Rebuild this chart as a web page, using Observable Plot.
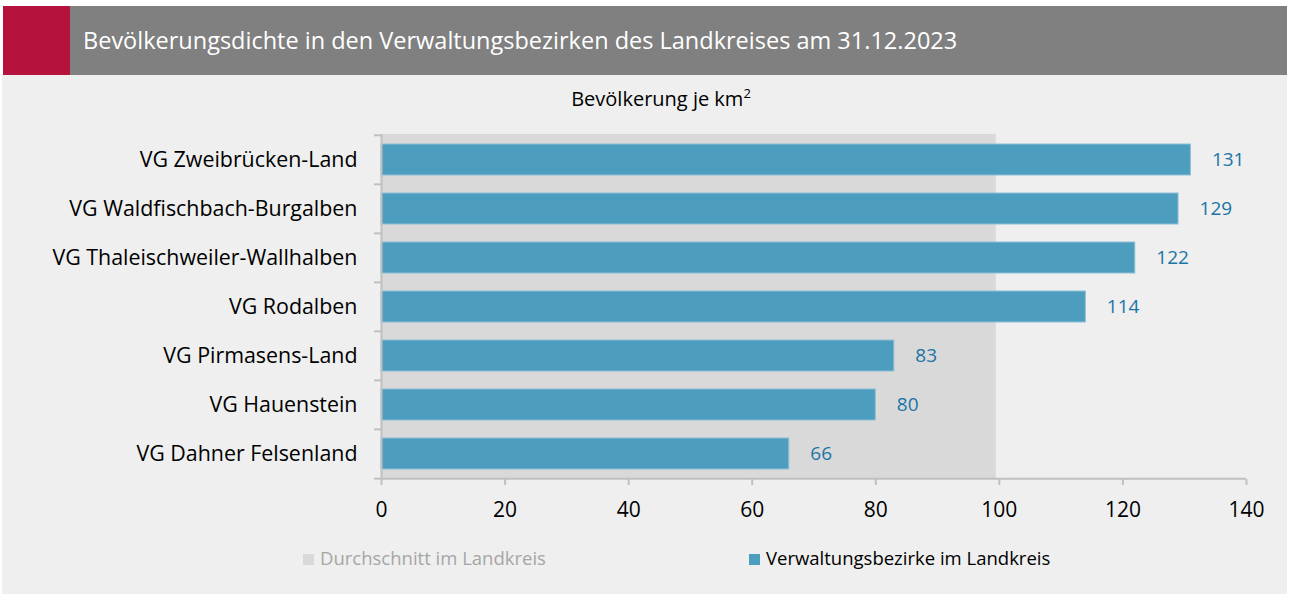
<!DOCTYPE html>
<html><head><meta charset="utf-8">
<script src="https://cdn.jsdelivr.net/npm/d3@7"></script>
<script src="https://cdn.jsdelivr.net/npm/@observablehq/plot@0.6"></script>
<style>
body{margin:0;background:#fff;font-family:"Open Sans",sans-serif;}
#wrap{position:relative;width:1289px;height:597px;overflow:hidden;}
#bg{position:absolute;left:2px;top:75px;width:1285px;height:519px;background:#eeefee;}
#red{position:absolute;left:3px;top:6px;width:67px;height:69px;background:#b5123e;}
#head{position:absolute;left:70px;top:6px;width:1217px;height:69px;background:#808080;color:#fff;font-size:23.5px;line-height:69px;padding-left:13px;box-sizing:border-box;white-space:nowrap;}
#sub{position:absolute;left:0;width:1322px;top:84px;text-align:center;font-size:20px;color:#000;}
#sub sup{font-size:13px;}
#chart{position:absolute;left:0;top:75px;}
.leg{position:absolute;top:545px;font-size:18.5px;white-space:nowrap;}
.leg i{display:inline-block;width:11px;height:11px;margin-right:6px;vertical-align:0px;}
</style></head>
<body>
<div id="wrap">
  <div id="bg"></div>
  <div id="red"></div>
  <div id="head">Bevölkerungsdichte in den Verwaltungsbezirken des Landkreises am 31.12.2023</div>
  <div id="sub">Bevölkerung je km<sup>2</sup></div>
  <div id="chart"></div>
  <div class="leg" style="left:303px;color:#a6a6a6"><i style="background:#d9d9d9"></i>Durchschnitt im Landkreis</div>
  <div class="leg" style="left:749px;color:#000"><i style="background:#4d9dbf"></i>Verwaltungsbezirke im Landkreis</div>
</div>
<script>
const names = ["VG Zweibrücken-Land","VG Waldfischbach-Burgalben","VG Thaleischweiler-Wallhalben","VG Rodalben","VG Pirmasens-Land","VG Hauenstein","VG Dahner Felsenland"];
const values = [131,129,122,114,83,80,66];
const average = 99.5;
const xTicks = [0,20,40,60,80,100,120,140];

const data = names.map((n,i)=>({name:n, value:values[i]}));
const H = 460, mT = 59, mB = 56;
const step = (H - mT - mB) / names.length;
const axisCol = "#c0c0c0";
const tickLen = 7 / ((1289-381-43)/140);

const chart = Plot.plot({
  width:1289, height:H,
  marginLeft:381, marginRight:43, marginTop:mT, marginBottom:mB,
  style:{background:"transparent", fontFamily:"Open Sans", color:"#000", overflow:"visible"},
  x:{domain:[0,140]},
  y:{domain:names, paddingInner:0.37, paddingOuter:0.185},
  marks:[
    Plot.rect([average], {x1:0, x2:d=>d, fill:"#d9d9d9"}),
    Plot.barX(data, {y:"name", x:"value", fill:"#4d9dbf", stroke:"#8fc0d6", strokeWidth:1}),
    Plot.text(data, {y:"name", x:"value", text:d=>String(d.value), dx:21, textAnchor:"start", fill:"#1b74a6", fontSize:19}),
    Plot.ruleX([0], {stroke:axisCol, strokeWidth:2}),
    Plot.ruleY(names, {y:d=>d, dy:-step/2, x1:-tickLen, x2:0, stroke:axisCol, strokeWidth:2}),
    Plot.ruleY([names[names.length-1]], {y:d=>d, dy:step/2, x1:-tickLen, x2:0, stroke:axisCol, strokeWidth:2}),
    Plot.ruleY([names[names.length-1]], {y:d=>d, dy:step/2, x1:0, x2:140, stroke:axisCol, strokeWidth:2}),
    Plot.axisY({tickSize:0, tickPadding:24, fontSize:21.4, label:null, fill:"#000"}),
    Plot.axisX({ticks:xTicks, tickSize:6, tickPadding:17, fontSize:21, label:null, stroke:axisCol, strokeWidth:2, fill:"#000"})
  ]
});
document.getElementById("chart").appendChild(chart);
</script>
</body></html>
